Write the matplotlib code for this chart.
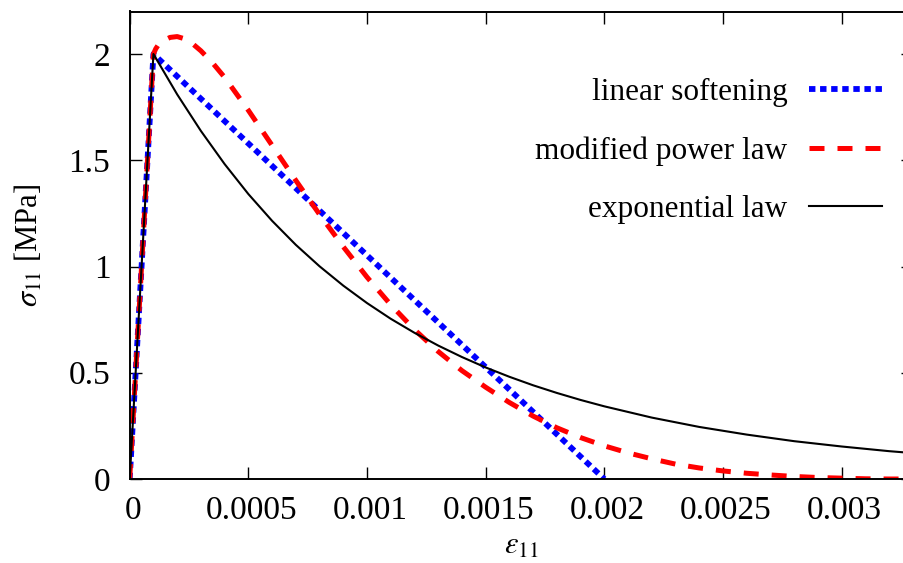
import matplotlib
matplotlib.use("Agg")
import matplotlib.pyplot as plt
import matplotlib.transforms as mtransforms

# -----------------------------
# Data
# -----------------------------
lin_eps = [0.0, 0.0001, 0.002]
lin_sig = [0.0, 2.0, 0.0]

pow_eps = [0.0, 0.0001, 0.00011, 0.00012, 0.00014, 0.00017, 0.0002, 0.00023,
           0.00026, 0.0003, 0.00035, 0.0004, 0.0005, 0.0006, 0.0007, 0.0008,
           0.0009, 0.001, 0.0011, 0.0012, 0.0013, 0.0014, 0.0015, 0.0016,
           0.0017, 0.0018, 0.0019, 0.002, 0.0021, 0.0022, 0.0023, 0.0024,
           0.0025, 0.0026, 0.0027, 0.0028, 0.0029, 0.003, 0.0031, 0.0032,
           0.0033]
pow_sig = [0.0, 2.0, 2.025, 2.042, 2.062, 2.078, 2.082, 2.072,
           2.053, 2.015, 1.957, 1.89, 1.735, 1.57, 1.405, 1.245,
           1.093, 0.95, 0.82, 0.703, 0.6, 0.51, 0.432, 0.36,
           0.296, 0.241, 0.195, 0.156, 0.123, 0.095, 0.07, 0.052,
           0.038, 0.027, 0.019, 0.012, 0.007, 0.004, 0.001, 0.0,
           0.0]

exp_eps = [0.0, 0.0001, 0.0002, 0.0003, 0.0004, 0.0005, 0.0006, 0.0007, 0.0008,
           0.0009, 0.001, 0.0011, 0.0012, 0.0013, 0.0014, 0.0015, 0.0016,
           0.0017, 0.0018, 0.0019, 0.002, 0.0022, 0.0024, 0.0026, 0.0028,
           0.003, 0.0032, 0.0033]
exp_sig = [0.0, 2.0, 1.81, 1.638, 1.482, 1.341, 1.215, 1.102, 1.001,
           0.91, 0.828, 0.754, 0.688, 0.628, 0.574, 0.525, 0.481,
           0.441, 0.405, 0.372, 0.342, 0.289, 0.245, 0.209, 0.178,
           0.153, 0.131, 0.122]

labels = ["linear softening", "modified power law", "exponential law"]
xticks = [0, 0.0005, 0.001, 0.0015, 0.002, 0.0025, 0.003]
xtick_labels = ["0", "0.0005", "0.001", "0.0015", "0.002", "0.0025", "0.003"]
yticks = [0, 0.5, 1, 1.5, 2]
ytick_labels = ["0", "0.5", "1", "1.5", "2"]

# -----------------------------
# Style
# -----------------------------
plt.rcParams["font.family"] = ["Liberation Serif", "DejaVu Serif"]
plt.rcParams["mathtext.fontset"] = "stix"

W, H = 904, 563
fig = plt.figure(figsize=(W / 100, H / 100), dpi=100)
# right spine sits just outside the canvas, as in the reference
ax = fig.add_axes([129.7 / W, 84 / H, 783.1 / W, 467.5 / H])

ax.plot(lin_eps, lin_sig, color="#0000ff", lw=4.2,
        linestyle=(0, (1.1, 0.8)), label=labels[0])
ax.plot(pow_eps, pow_sig, color="#ff0000", lw=3.6,
        linestyle=(0, (3.0, 2.6)), label=labels[1])
ax.plot(exp_eps, exp_sig, color="black", lw=1.5, label=labels[2])

ax.set_xlim(0, 0.0033)
ax.set_ylim(0, 2.2)
ax.set_xticks(xticks)
ax.set_xticklabels(xtick_labels)
ax.set_yticks(yticks)
ax.set_yticklabels(ytick_labels)

ax.tick_params(direction="in", length=8.6, width=1.0, labelsize=24,
               top=True, right=True)
ax.tick_params(axis="x", pad=12)
ax.tick_params(axis="y", pad=14)
for s in ax.spines.values():
    s.set_linewidth(1.4)

# small rightward shift of x tick labels, like the original
shift = mtransforms.ScaledTranslation(3 / 100, 0, fig.dpi_scale_trans)
for lab in ax.get_xticklabels():
    lab.set_transform(lab.get_transform() + shift)

ax.set_xlabel(r"$\epsilon_{11}$", fontsize=22, labelpad=4)
ax.set_ylabel(r"$\sigma_{11}$ [MPa]", fontsize=22, labelpad=17)

ax.legend(loc="upper right", bbox_to_anchor=(882 / W, 1 - 78 / H),
          bbox_transform=fig.transFigure, frameon=False, markerfirst=False,
          fontsize=22.5, handlelength=2.35, handletextpad=0.68,
          labelspacing=0.94, borderpad=0, borderaxespad=0)

fig.savefig("out.png", dpi=100)
